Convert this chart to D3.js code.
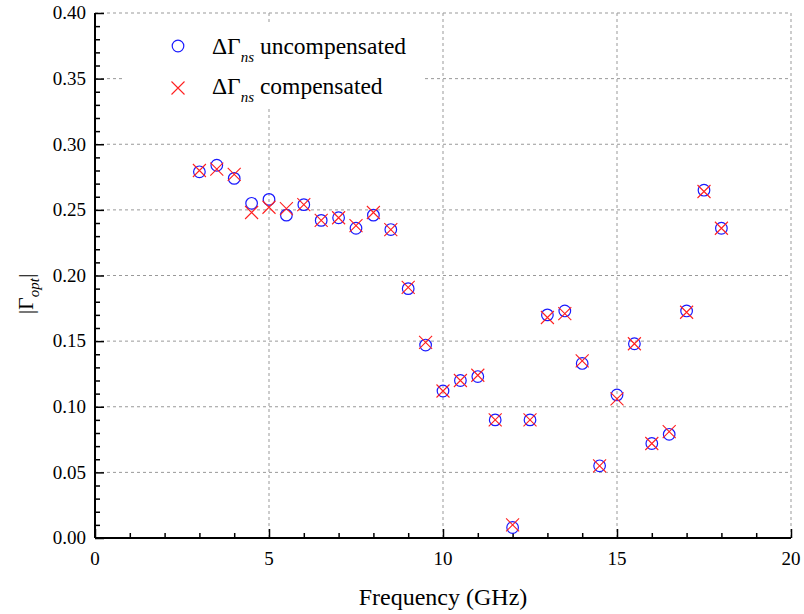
<!DOCTYPE html>
<html>
<head>
<meta charset="utf-8">
<script src="https://cdn.jsdelivr.net/npm/d3@7/dist/d3.min.js"></script>
<style>
  html, body { margin: 0; padding: 0; background: #fff; }
  svg { display: block; }
</style>
</head>
<body>
<svg id="chart" width="804" height="614"></svg>
<script>
// Frequency points (GHz)
const frequency = [3, 3.5, 4, 4.5, 5, 5.5, 6, 6.5, 7, 7.5, 8, 8.5, 9, 9.5, 10, 10.5, 11, 11.5,
                   12, 12.5, 13, 13.5, 14, 14.5, 15, 15.5, 16, 16.5, 17, 17.5, 18];
// |Γopt| with uncompensated ΔΓns
const uncompensated = [0.279, 0.284, 0.274, 0.255, 0.258, 0.246, 0.254, 0.242, 0.244, 0.236, 0.246, 0.235,
                       0.190, 0.147, 0.112, 0.120, 0.123, 0.090, 0.008, 0.090, 0.170, 0.173, 0.133, 0.055,
                       0.109, 0.148, 0.072, 0.079, 0.173, 0.265, 0.236];
// |Γopt| with compensated ΔΓns
const compensated = [0.280, 0.281, 0.277, 0.248, 0.252, 0.251, 0.254, 0.242, 0.244, 0.238, 0.248, 0.235,
                     0.191, 0.149, 0.112, 0.120, 0.124, 0.090, 0.010, 0.090, 0.168, 0.171, 0.135, 0.055,
                     0.106, 0.148, 0.072, 0.081, 0.172, 0.264, 0.236];
const xTicks = [0, 5, 10, 15, 20];
const yTicks = [0.00, 0.05, 0.10, 0.15, 0.20, 0.25, 0.30, 0.35, 0.40];

const serif = '"Liberation Serif", "Times New Roman", serif';
const svg = d3.select("#chart");
const plotL = 95, plotR = 791, plotT = 13, plotB = 538;

const x = d3.scaleLinear().domain([0, 20]).range([plotL, plotR]);
const y = d3.scaleLinear().domain([0, 0.40]).range([plotB, plotT]);

// dashed grid at major ticks
const grid = svg.append("g").attr("stroke", "#999").attr("stroke-width", 1)
  .attr("stroke-dasharray", "3,3");
grid.selectAll("line.gx").data(xTicks.filter(d => d > 0)).join("line").attr("class", "gx")
  .attr("x1", d => x(d)).attr("x2", d => x(d)).attr("y1", plotB).attr("y2", plotT);
grid.selectAll("line.gy").data(yTicks.filter(d => d > 0)).join("line").attr("class", "gy")
  .attr("y1", d => y(d)).attr("y2", d => y(d)).attr("x1", plotL).attr("x2", plotR);

// legend backdrop hides the grid behind it
svg.append("rect").attr("x", 122).attr("y", 25).attr("width", 301).attr("height", 82)
  .attr("fill", "#fff");

// axes with inward ticks
const xMinor = d3.range(0, 21, 1);
const yMinor = d3.range(0, 41, 1).map(d => d / 100);

const xAxis = svg.append("g").attr("transform", `translate(0,${plotB})`);
xAxis.call(d3.axisTop(x).tickValues(xMinor).tickSize(5).tickFormat(""));
xAxis.call(g => g.selectAll(".tick line").filter(d => xTicks.includes(d)).attr("y2", -9));
xAxis.selectAll("path, line").attr("stroke", "#000").attr("stroke-width", 1.5);
xAxis.select(".domain").attr("stroke-width", 2).attr("d", `M${plotL},0H${plotR}`);
xAxis.selectAll("text.lbl").data(xTicks).join("text").attr("class", "lbl")
  .attr("x", d => x(d)).attr("y", 27).attr("text-anchor", "middle")
  .style("font-family", serif).style("font-size", "19px").attr("fill", "#000").text(d => d);

const yAxis = svg.append("g").attr("transform", `translate(${plotL},0)`);
yAxis.call(d3.axisRight(y).tickValues(yMinor).tickSize(5).tickFormat(""));
yAxis.call(g => g.selectAll(".tick line").filter(d => yTicks.some(t => Math.abs(t - d) < 1e-9)).attr("x2", 9));
yAxis.selectAll("path, line").attr("stroke", "#000").attr("stroke-width", 1.5);
yAxis.select(".domain").attr("stroke-width", 2).attr("d", `M0,${plotT}V${plotB}`);
yAxis.selectAll("text.lbl").data(yTicks).join("text").attr("class", "lbl")
  .attr("x", -9).attr("y", d => y(d)).attr("dy", "0.33em").attr("text-anchor", "end")
  .style("font-family", serif).style("font-size", "19px").attr("fill", "#000").text(d => d.toFixed(2));

// axis titles
svg.append("text").attr("x", (plotL + plotR) / 2).attr("y", 605).attr("text-anchor", "middle")
  .style("font-family", serif).style("font-size", "24px").attr("fill", "#000").text("Frequency (GHz)");

const yt = svg.append("text").attr("transform", "translate(33,294) rotate(-90)")
  .attr("text-anchor", "middle").style("font-family", serif).style("font-size", "22px").attr("fill", "#000");
yt.append("tspan").text("|Γ");
yt.append("tspan").style("font-style", "italic").style("font-size", "15px").attr("dy", 6).text("opt");
yt.append("tspan").attr("dy", -6).text("|");

// markers
svg.append("g").selectAll("circle").data(frequency).join("circle")
  .attr("cx", d => x(d)).attr("cy", (d, i) => y(uncompensated[i])).attr("r", 5.8)
  .attr("fill", "none").attr("stroke", "#1a1aff").attr("stroke-width", 1.2);

const cs = 6.5;
const crossPath = (cx, cy) => `M${cx - cs},${cy - cs}L${cx + cs},${cy + cs}M${cx - cs},${cy + cs}L${cx + cs},${cy - cs}`;
svg.append("g").selectAll("path").data(frequency).join("path")
  .attr("d", (d, i) => crossPath(x(d), y(compensated[i])))
  .attr("fill", "none").attr("stroke", "#ff2020").attr("stroke-width", 1.1);

// legend
const legend = svg.append("g");
legend.append("circle").attr("cx", 178).attr("cy", 46).attr("r", 5.8)
  .attr("fill", "none").attr("stroke", "#1a1aff").attr("stroke-width", 1.2);
legend.append("path").attr("d", crossPath(178, 88)).attr("fill", "none")
  .attr("stroke", "#ff2020").attr("stroke-width", 1.1);
const labels = ["uncompensated", "compensated"];
labels.forEach((t, i) => {
  const tx = legend.append("text").attr("x", 212).attr("y", 54 + i * 40)
    .style("font-family", serif).style("font-size", "23.5px").attr("fill", "#000");
  tx.append("tspan").text("ΔΓ");
  tx.append("tspan").style("font-style", "italic").style("font-size", "15px").attr("dy", 8).text("ns");
  tx.append("tspan").attr("dy", -8).text(" " + t);
});
</script>
</body>
</html>
